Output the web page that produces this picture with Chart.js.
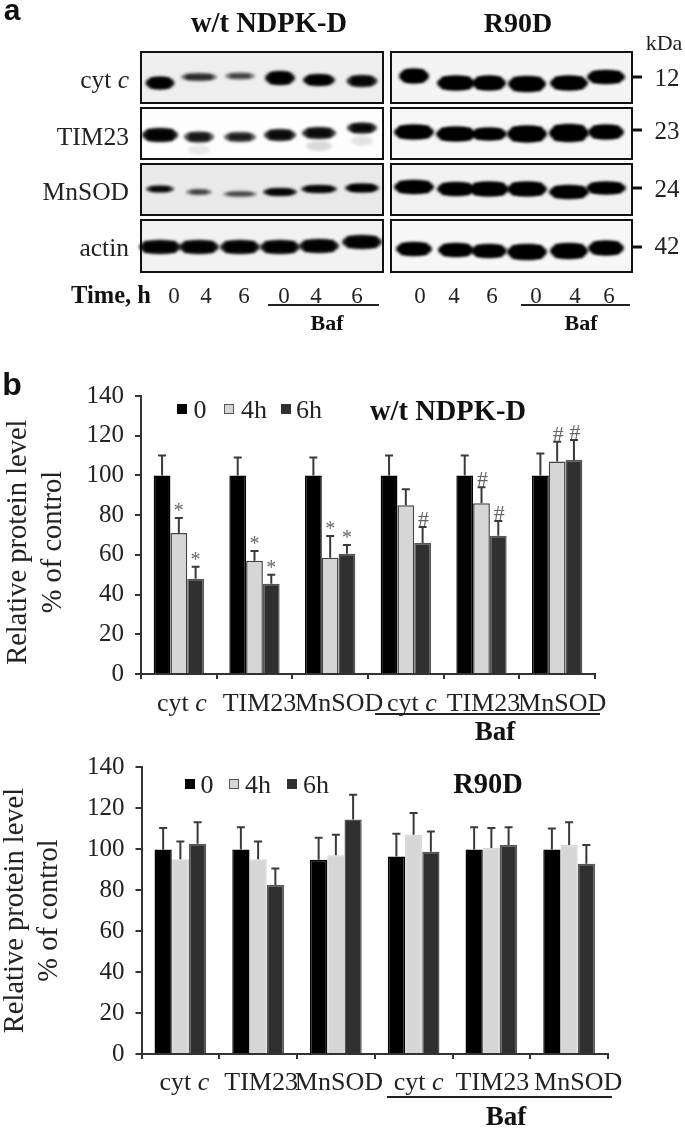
<!DOCTYPE html>
<html><head><meta charset="utf-8">
<script src="https://cdn.jsdelivr.net/npm/chart.js@4"></script>
<style>
html,body{margin:0;padding:0;background:#fff}
#page{position:relative;width:685px;height:1128px;overflow:hidden;filter:blur(.65px);font-family:"Liberation Serif",serif;color:#222}
canvas{position:absolute;left:0}
.t{position:absolute;white-space:nowrap;line-height:1;transform:translate(-50%,-50%)}
.b{font-weight:bold;color:#111}
.l{position:absolute;background:#222}
.sq{position:absolute;box-sizing:border-box}
</style></head><body>
<div id="page">
<canvas id="blot" width="685" height="370" style="top:0"></canvas>
<canvas id="c1" width="685" height="380" style="top:370px"></canvas>
<canvas id="c2" width="685" height="387" style="top:741px"></canvas>
</div>
<script>
// ---------- panel b data ----------
const categories = ['cyt c','TIM23','MnSOD','cyt c','TIM23','MnSOD'];
const seriesNames = ['0','4h','6h'];
const yTicks = [0,20,40,60,80,100,120,140];

const wt0   = [100,100,100,100,100,100];
const wt4h  = [71,57,58.5,85,86,107];
const wt6h  = [48,45.5,60.5,66,69.6,107.8];
const wt0Top  = [110,109,109,110,110,111];
const wt4hTop = [78.5,62,69.5,93,94,117];
const wt6hTop = [54,50,65,74,77,117.8];
const wt0Mark  = ['','','','','',''];
const wt4hMark = ['*','*','*','','#','#'];
const wt6hMark = ['*','*','*','#','#','#'];

const r90d0   = [99.7,99.7,94.8,96.3,99.7,99.7];
const r90d4h  = [95,95,97,107,100.5,102];
const r90d6h  = [102.6,82.5,114.4,98.6,102,92.8];
const r90d0Top  = [110.2,110.6,105.5,107.4,110.6,110];
const r90d4hTop = [103.7,103.7,107,117.6,110.3,113];
const r90d6hTop = [113,90.5,126.5,108.5,110.6,102];

// ---------- panel a data (lane / row readings) ----------
const laneX = [160,199,240,280,319,362,414,456,489,527,569,606];
const cytY   = [83,77,76,78,80,81,76,83,83,84,83,77];
const timY   = [135,137,137,135,133,128,132,134,134,134,133,132];
const mnY    = [189,192,194,192,189,188,187,189,189,189,192,188];
const actinY = [247,247,247,247,246,242,249,250,251,252,251,248];
const cytStrength   = [.95,.6,.5,.95,.95,.85,1,1,1,1,1,1];
const timStrength   = [.9,.7,.65,.8,.8,.8,1,1,1,1,1,1];
const mnStrength    = [.85,.55,.5,.9,.9,.95,1,1,1,1,1,1];
const actinStrength = [.9,.9,.9,.9,.9,.9,1,1,1,1,1,1];
const cytThick   = [12,7,6,13,11,11,14,14,14,15,14,13];
const timThick   = [13,10,9,11,11,10,14,14,12,16,17,14];
const mnThick    = [6,5,5,7,7,8,13,13,14,14,13,12];
const actinThick = [13,13,13,13,13,13,13,13,13,15,15,14];
const cytWidth   = [27,34,28,28,30,29,28,36,32,36,36,36];
const timWidth   = [34,28,30,30,32,28,38,38,34,38,38,34];
const mnWidth    = [26,24,32,32,34,32,38,36,38,38,38,38];
const actinWidth = [40,38,38,38,38,38,34,34,34,38,36,34];
const timSmear   = [0,.08,0,0,.14,.1,0,0,0,0,0,0];

const blotNames = ['cyt c','TIM23','MnSOD','actin'];
const kDa = ['12','23','24','42'];
const timeLabels = ['0','4','6','0','4','6','0','4','6','0','4','6'];

const page = document.getElementById('page');
function txt(html,x,y,size,cls,extra){
  const s=document.createElement('span');s.className='t '+(cls||'');s.innerHTML=html;
  s.style.left=x+'px';s.style.top=y+'px';s.style.fontSize=size+'px';
  if(extra)Object.assign(s.style,extra);page.appendChild(s);return s;
}
function line(x0,x1,y,h){const d=document.createElement('div');d.className='l';
  d.style.cssText=`left:${x0}px;width:${x1-x0}px;top:${y}px;height:${h||2}px`;page.appendChild(d);}
const ital = s => s.replace(/ c$/,' <i>c</i>');

// ---------- blot chart ----------
const rows=[[cytY,cytStrength,cytThick,cytWidth],[timY,timStrength,timThick,timWidth],[mnY,mnStrength,mnThick,mnWidth],[actinY,actinStrength,actinThick,actinWidth]];
const panelX=[[141,383],[391,632]];
const panelY=[[52,103],[108,159],[164,215],[220,272]];
const panelFill=[['#eeeeee','#f4f4f4'],['#fdfdfd','#f6f6f6'],['#e9e9e9','#f2f2f2'],['#f2f2f2','#f7f7f7']];
const blotPlugin={id:'blotPlugin',
 beforeDatasetsDraw(ch){const c=ch.ctx,sx=ch.scales.x,sy=ch.scales.y;
  panelY.forEach((py,r)=>panelX.forEach((px,p)=>{
    const x=sx.getPixelForValue(px[0]),w=sx.getPixelForValue(px[1])-x,y=sy.getPixelForValue(py[0]),h=sy.getPixelForValue(py[1])-y;
    c.fillStyle=panelFill[r][p];c.fillRect(x,y,w,h);
    c.strokeStyle='#111';c.lineWidth=2;c.strokeRect(x,y,w,h);
  }));},
 afterDatasetsDraw(ch){const c=ch.ctx;
  ch.data.datasets.forEach((ds,r)=>{
    ch.getDatasetMeta(r).data.forEach((el,i)=>{
      const [,st,th,wd]=rows[r];
      c.save();c.filter='blur(1.8px)';
      if(r===1&&timSmear[i]){c.fillStyle=`rgba(0,0,0,${timSmear[i]})`;c.beginPath();c.ellipse(el.x,el.y+13,wd[i]/2-3,5,0,0,Math.PI*2);c.fill();}
      c.fillStyle=`rgba(0,0,0,${st[i]})`;
      c.beginPath();c.ellipse(el.x,el.y,wd[i]/2+1,th[i]/2+.5,0,0,Math.PI*2);c.fill();
      c.fillRect(el.x-wd[i]/2+4,el.y-th[i]/2+1,wd[i]-8,th[i]-2);
      c.restore();
    });
  });
  const sx=ch.scales.x,sy=ch.scales.y;
  [77,130,188,247].forEach(v=>{c.fillStyle='#111';c.fillRect(sx.getPixelForValue(633),sy.getPixelForValue(v)-1.5,9,3);});
 }};
new Chart(document.getElementById('blot'),{type:'scatter',
 data:{datasets:rows.map((r,k)=>({label:blotNames[k],data:laneX.map((x,i)=>({x,y:r[0][i]})),pointRadius:0}))},
 options:{responsive:false,animation:false,devicePixelRatio:1,layout:{padding:0},
  plugins:{legend:{display:false},tooltip:{enabled:false}},
  scales:{x:{type:'linear',min:0,max:685,display:false},y:{type:'linear',min:0,max:370,reverse:true,display:false}}},
 plugins:[blotPlugin]});

// ---------- bar charts ----------
const colors=['#000000','#d6d6d6','#303030'];
function barChart(id,vals,tops,marks,geo){
 const errPlugin={id:'err',afterDatasetsDraw(ch){const c=ch.ctx,ys=ch.scales.y;
   vals.forEach((v,d)=>{ch.getDatasetMeta(d).data.forEach((el,i)=>{
     const y1=ys.getPixelForValue(tops[d][i]),y0=ys.getPixelForValue(v[i]);
     c.strokeStyle='#3a3a3a';c.lineWidth=2;
     c.beginPath();c.moveTo(el.x,y0);c.lineTo(el.x,y1);c.moveTo(el.x-4,y1);c.lineTo(el.x+4,y1);c.stroke();
     const m=marks&&marks[d][i];
     if(m){c.fillStyle='#666';c.textAlign='center';c.textBaseline='alphabetic';
       if(m==='*'){c.font='20px "Liberation Serif"';c.fillText(m,el.x,y1-1);}
       else{c.font='22px "Liberation Serif"';c.fillText(m,el.x+1,y1-1);}}
   });});
 }};
 return new Chart(document.getElementById(id),{type:'bar',plugins:[errPlugin],
  data:{labels:categories,datasets:vals.map((v,d)=>({label:seriesNames[d],data:v,backgroundColor:colors[d],
     borderColor:d===1?geo.lightBorder:(d===2?'#555':'#000'),borderWidth:1.5,barPercentage:1,categoryPercentage:.665}))},
  options:{responsive:false,animation:false,devicePixelRatio:1,
   layout:{padding:{top:geo.top,right:geo.right,left:0,bottom:0}},
   plugins:{legend:{display:false},tooltip:{enabled:false}},
   scales:{
    x:{grid:{offset:true,drawOnChartArea:false,drawTicks:true,tickLength:5,color:'#333',lineWidth:2},
       border:{color:'#333',width:2},ticks:{display:false},afterFit(s){s.height=geo.bottom;}},
    y:{min:0,max:140,afterBuildTicks(s){s.ticks=yTicks.map(v=>({value:v}));},
       grid:{drawOnChartArea:false,drawTicks:true,tickLength:6,color:'#333',lineWidth:2},
       border:{color:'#333',width:2},
       ticks:{color:'#222',font:{family:'Liberation Serif',size:25},padding:11},
       title:{display:true,text:geo.titleLines,color:'#222',
              font:{family:'Liberation Serif',size:28.5,lineHeight:geo.titleLH},padding:{top:geo.titlePad,bottom:0}},
       afterFit(s){s.width=geo.left;}}
   }}});
}
const ch1=barChart('c1',[wt0,wt4h,wt6h],[wt0Top,wt4hTop,wt6hTop],[wt0Mark,wt4hMark,wt6hMark],
  {top:26,right:90,bottom:76,left:141,lightBorder:'#444',titleLH:1.24,titlePad:1,
   titleLines:['Relative protein level\u00A0\u00A0','% of control\u00A0\u00A0']});
const ch2=barChart('c2',[r90d0,r90d4h,r90d6h],[r90d0Top,r90d4hTop,r90d6hTop],null,
  {top:0,right:77,bottom:74,left:141.5,lightBorder:'#d6d6d6',titleLH:1.2,titlePad:-2,
   titleLines:['Relative protein level','% of control']});

// category labels placed from each chart's x scale
const nudge1=[3,5,9,6,2,5], nudge2=[4,3,3,5,1,9];
categories.forEach((c,i)=>{
  txt(ital(c),ch1.scales.x.getPixelForValue(i)+nudge1[i],703,26);
  txt(ital(c),ch2.scales.x.getPixelForValue(i)+nudge2[i],1082,26);
});

// ---------- text: panel a ----------
txt('a',12,10,30,'b',{fontFamily:'"Liberation Sans"'});
txt('b',12,384,32,'b',{fontFamily:'"Liberation Sans"'});
txt('w/t NDPK-D',269,23,28.5,'b');
txt('R90D',518,23,28,'b');
txt('kDa',664,43,22);
const rowLabelY=[80,137,192,248];
blotNames.forEach((n,i)=>{const s=txt(ital(n),129,rowLabelY[i],25.5);s.style.transform='translate(-100%,-50%)';});
[77,130,188,245].forEach((y,i)=>txt(kDa[i],667,y,25));
txt('Time, h',111,295,24.5,'b');
const timeX=[174,206,244,284,316,357,420,454,492,536,575,609];
timeLabels.forEach((t,i)=>txt(t,timeX[i],295,23));
line(268,379,304);line(521,630,304);
txt('Baf',327,323,22,'b');txt('Baf',581,323,22,'b');

// ---------- text: panel b ----------
function legend(xs,y){
  seriesNames.forEach((n,i)=>{
    const q=document.createElement('div');q.className='sq';
    q.style.cssText=`left:${xs[i][0]}px;top:${y-5}px;width:10px;height:10px;background:${colors[i]};`+(i===1?'border:1.5px solid #555;':'');
    page.appendChild(q);
    txt(n,xs[i][1],y+1,26);
  });
}
legend([[177,200],[224,254],[281,309]],409);
legend([[185,207],[229,258],[287,316]],784);
txt('w/t NDPK-D',448,411,28.5,'b');
txt('R90D',488,784,28.5,'b');
line(375,600,713);txt('Baf',495,731,27,'b');
line(387,612,1096);txt('Baf',506,1116,27,'b');
</script>
</body></html>
